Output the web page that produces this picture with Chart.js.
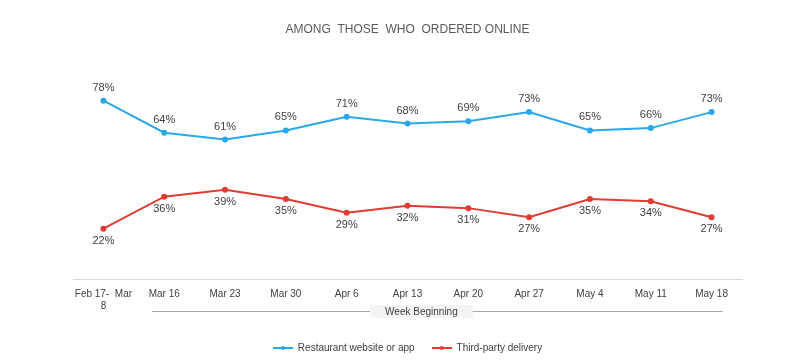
<!DOCTYPE html>
<html>
<head>
<meta charset="utf-8">
<script src="https://cdn.jsdelivr.net/npm/chart.js@4.4.1/dist/chart.umd.min.js"></script>
<style>
  html, body { margin: 0; padding: 0; background: #fff; }
  #wrap { width: 798px; height: 364px; }
</style>
</head>
<body>
<div id="wrap"><canvas id="chart" width="798" height="364"></canvas></div>
<script>
// weeks (first label wraps like the original)
const weeks = [["Feb 17-  Mar", "8"], "Mar 16", "Mar 23", "Mar 30", "Apr 6", "Apr 13", "Apr 20", "Apr 27", "May 4", "May 11", "May 18"];
const restaurantSite = [78, 64, 61, 65, 71, 68, 69, 73, 65, 66, 73];
const thirdParty = [22, 36, 39, 35, 29, 32, 31, 27, 35, 34, 27];

const BLUE = '#29a8ea';
const RED = '#e03c31';
const TEXT = '#404040';
const FONT = 'Arial, "Liberation Sans", sans-serif';

// little line+dot symbol for the legend
function legendMark(color) {
    const c = document.createElement('canvas');
    c.width = 20; c.height = 8;
    const g = c.getContext('2d');
    g.strokeStyle = color; g.lineWidth = 2;
    g.beginPath(); g.moveTo(0, 4); g.lineTo(20, 4); g.stroke();
    g.fillStyle = color;
    g.beginPath(); g.arc(10, 4, 2, 0, Math.PI * 2); g.fill();
    return c;
}

// value labels: blue above, red below
const valueLabels = {
    id: 'valueLabels',
    afterDatasetsDraw(chart) {
        const ctx = chart.ctx;
        ctx.save();
        ctx.font = '11px ' + FONT;
        ctx.fillStyle = TEXT;
        ctx.textAlign = 'center';
        ctx.textBaseline = 'middle';
        chart.data.datasets.forEach((ds, i) => {
            const meta = chart.getDatasetMeta(i);
            meta.data.forEach((pt, j) => {
                const dy = i === 0 ? -13 : 12;
                ctx.fillText(ds.data[j] + '%', pt.x, pt.y + dy);
            });
        });
        ctx.restore();
    }
};

// "Week Beginning" bracket under the axis
const weekBracket = {
    id: 'weekBracket',
    afterDraw(chart) {
        const ctx = chart.ctx;
        const x = chart.scales.x;
        const x1 = x.getPixelForValue(1) - 12;
        const x2 = x.getPixelForValue(10) + 11;
        const y = 311;
        const mid = (x1 + x2) / 2 - 16;
        ctx.save();
        ctx.strokeStyle = '#a6a6a6';
        ctx.lineWidth = 1;
        ctx.beginPath(); ctx.moveTo(x1, y + 0.5); ctx.lineTo(x2, y + 0.5); ctx.stroke();
        ctx.font = '10px ' + FONT;
        const w = ctx.measureText('Week Beginning').width + 30;
        ctx.fillStyle = '#f4f4f4';
        ctx.fillRect(mid - w / 2, y - 6, w, 13);
        ctx.fillStyle = TEXT;
        ctx.textAlign = 'center';
        ctx.textBaseline = 'middle';
        ctx.fillText('Week Beginning', mid, y + 1);
        ctx.restore();
    }
};

new Chart(document.getElementById('chart'), {
    type: 'line',
    data: {
        labels: weeks,
        datasets: [{
            label: 'Restaurant website or app',
            data: restaurantSite,
            borderColor: BLUE,
            backgroundColor: BLUE,
            borderWidth: 2,
            pointRadius: 2,
            pointHoverRadius: 2
        }, {
            label: 'Third-party delivery',
            data: thirdParty,
            borderColor: RED,
            backgroundColor: RED,
            borderWidth: 2,
            pointRadius: 2,
            pointHoverRadius: 2
        }]
    },
    options: {
        responsive: false,
        animation: false,
        layout: { padding: { left: 73, right: 56, top: 0, bottom: 1 } },
        plugins: {
            title: {
                display: true,
                text: 'AMONG  THOSE  WHO  ORDERED ONLINE',
                color: '#595959',
                font: { family: FONT, size: 12, weight: 'normal' },
                padding: { top: 22, bottom: 14 }
            },
            legend: {
                position: 'bottom',
                labels: {
                    usePointStyle: true,
                    pointStyleWidth: 20,
                    color: TEXT,
                    font: { family: FONT, size: 10 },
                    padding: 17,
                    generateLabels(chart) {
                        const items = Chart.defaults.plugins.legend.labels.generateLabels(chart);
                        items.forEach((it, i) => { it.pointStyle = legendMark(i === 0 ? BLUE : RED); });
                        return items;
                    }
                }
            },
            tooltip: { enabled: false }
        },
        scales: {
            x: {
                offset: true,
                grid: { display: false },
                border: { display: true, color: '#d9d9d9', width: 1 },
                ticks: {
                    color: TEXT,
                    font: { family: FONT, size: 10 },
                    maxRotation: 0,
                    autoSkip: false,
                    padding: 1
                },
                afterFit(scale) { scale.height = 47; }
            },
            y: {
                display: false,
                min: 0,
                max: 100
            }
        }
    },
    plugins: [valueLabels, weekBracket]
});
</script>
</body>
</html>
